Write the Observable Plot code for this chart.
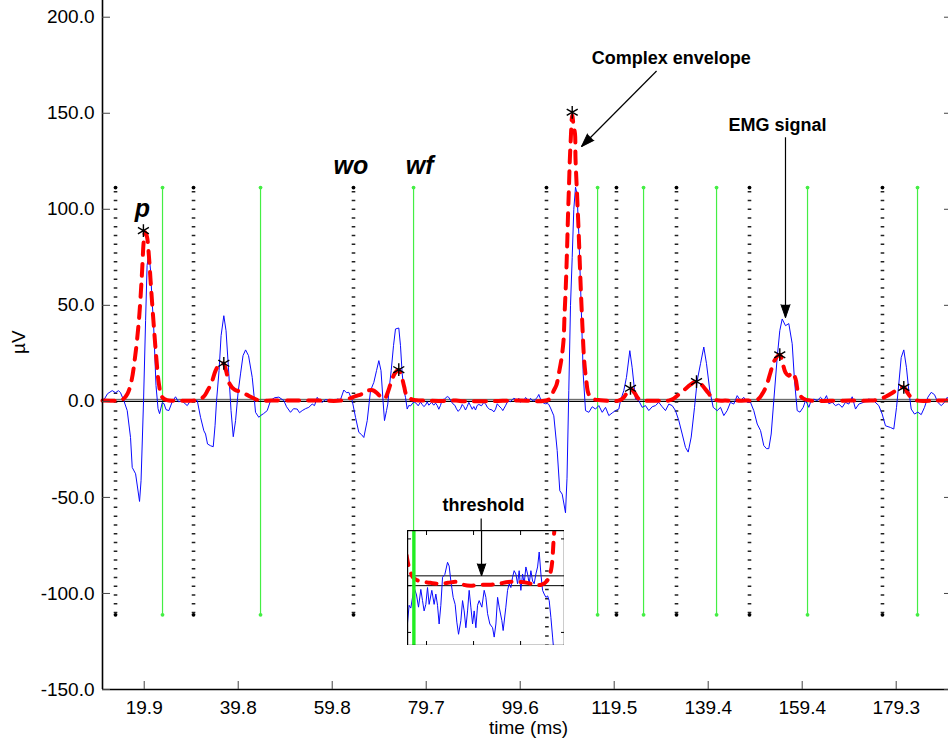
<!DOCTYPE html>
<html><head><meta charset="utf-8">
<script src="https://cdn.jsdelivr.net/npm/d3@7"></script>
<script src="https://cdn.jsdelivr.net/npm/@observablehq/plot@0.6"></script>
<style>
body{margin:0;background:#fff;}
#wrap{position:relative;width:948px;height:740px;overflow:hidden;font-family:"Liberation Sans",Arial,sans-serif;}
#inset{position:absolute;left:406.5px;top:530px;line-height:0;}
</style></head><body><div id="wrap"><div id="main"></div><div id="inset"></div></div>
<script>
// ---- data ----
const signalT = [11.08,11.36,12.14,13.14,13.84,14.48,14.90,15.60,16.32,17.02,17.38,18.09,18.93,19.25,19.78,20.21,20.53,20.91,21.27,21.58,21.89,22.42,22.85,23.17,23.74,24.12,24.54,25.14,25.86,26.56,27.19,27.98,29.04,29.74,30.37,31.16,31.86,32.56,32.92,33.34,33.98,34.55,34.93,35.25,35.78,36.21,36.79,37.26,37.85,38.32,38.79,39.28,39.81,40.33,40.86,41.40,42.03,42.81,43.19,43.51,44.21,44.57,45.20,45.99,46.69,47.53,48.45,49.51,50.08,50.92,51.56,52.34,52.83,53.40,54.10,54.80,55.52,56.01,56.58,57.07,57.64,58.34,59.40,60.04,60.82,61.52,62.22,62.79,63.28,64.00,64.70,65.40,65.97,66.46,67.18,67.88,68.58,69.15,69.64,70.10,70.53,70.84,71.27,71.54,71.90,72.26,72.75,73.17,73.87,74.23,74.59,74.97,75.29,75.65,75.99,76.35,77.05,77.56,77.98,78.47,78.83,79.17,79.53,79.89,80.23,80.80,81.29,81.65,82.01,82.35,82.71,83.07,83.56,84.13,84.47,84.83,85.32,85.74,86.10,86.46,86.95,87.31,87.65,88.01,88.37,88.71,89.07,89.43,89.77,90.13,90.49,90.83,91.40,91.89,92.25,92.61,93.09,93.67,94.01,94.37,94.73,95.07,95.64,95.91,96.48,96.84,97.18,97.54,97.90,98.24,98.60,98.96,99.30,99.66,100.02,100.36,100.72,101.08,101.42,101.78,102.14,102.48,102.84,103.20,103.54,103.90,104.26,104.60,104.96,105.32,105.66,106.02,106.38,106.72,107.44,107.99,108.50,109.20,109.52,109.90,110.26,110.62,110.96,111.32,111.64,112.02,112.53,112.95,113.44,114.14,114.86,115.56,116.26,116.98,117.68,118.38,119.10,119.80,120.50,120.86,121.55,122.12,122.83,123.33,124.03,124.73,125.45,126.15,126.85,127.57,128.27,128.97,129.69,130.39,131.09,131.81,132.51,133.21,133.93,134.63,135.20,135.84,136.54,137.11,137.81,138.51,139.08,139.78,140.50,141.35,142.05,142.75,143.46,144.16,144.86,145.58,146.28,146.98,147.70,148.40,149.10,149.83,150.53,151.22,151.79,152.28,152.79,153.34,154.06,154.61,155.12,155.82,156.52,157.24,157.73,158.30,158.89,159.57,160.06,160.42,160.76,161.12,161.82,162.54,163.24,163.94,164.51,165.00,165.72,166.42,167.12,167.84,168.54,169.24,169.96,170.66,171.36,172.36,173.47,174.47,175.59,176.31,177.01,178.07,178.77,179.35,179.83,180.34,180.89,181.46,181.95,182.46,183.16,183.86,184.58,185.28,185.98,186.70,187.40,188.10,188.82,189.52,190.09,190.99];
const signalUv = [0,0.7,4.0,5.6,4.5,5.6,4.5,0.4,-4.8,-18.8,-34.4,-37.7,-52.1,-41.3,0.4,42,70.7,77.6,68,52.4,41,8.2,-3.8,-6.4,-0.7,-1.2,-4.3,-4.8,-0.2,2.4,-0.2,0.1,-2.2,0.4,0.6,0.4,-8.3,-15.3,-17,-22.2,-23.1,-23.6,-12.7,0.4,16,34.2,44.6,36.8,14.4,-4.8,-18.4,-10,4.5,14.3,23.8,26.8,23.8,12.5,3.0,-5.7,-8.3,-7.4,-6.4,-4.8,0.4,1.9,2.2,0.4,-2.8,-5.7,-3.8,-4.0,-5.9,-4.8,-3.8,-3.1,-1.4,-2.2,2.1,0.4,-0.5,0.9,0.4,-0.2,1.2,0.9,5.9,4.5,4.7,0.4,-8.3,-16.1,-17.3,-18.8,-10,5.6,9.9,16,21.2,16,0.4,-10,-4.8,-1.4,8.2,16,29,37.7,38.2,29,14.3,5.6,2.1,-4.0,-2.1,-2.4,-0.2,-1.0,-2.3,-0.4,-1.6,-2.7,-2.0,-0.2,-2.0,-0.5,-2.0,-0.9,-2.1,-4.1,-2.1,0.9,1.2,2.5,2.1,0.5,-1.25,-2.0,-3.9,-5.2,-3.75,-1.6,-2.7,-4.5,-2.7,-0.5,-2.3,-4.1,-2.7,-4.5,-2.1,-1.6,-2.3,-0.5,-1.25,-3.0,-4.1,-4.5,-5.5,-4.1,-1.25,-2.3,-3.75,-4.8,-2.3,-0.5,0.2,-0.2,0.9,1.6,1.25,0.2,1.6,-0.5,1.25,0.2,2.0,1.25,0.2,1.6,0.5,0.2,1.25,2.0,3.6,1.25,-0.5,-0.9,-1.25,-1.1,-1.6,-3.4,-5.5,-7.5,-25.6,-46.5,-48.3,-58,-40,5.6,50,75,100,111.5,108,87.3,49.3,14.4,-4.8,-5.7,-2.8,-4.0,-2.2,-5.7,-3.1,-7.4,-6.0,-4.8,-4.0,0.4,5.6,12.5,26.4,17.5,1.2,0.4,-3.1,-2.2,-4.8,-2.8,-2.2,-0.5,-2.8,-4.8,-1.4,-2.2,-4.8,-10,-17,-24,-26.4,-18.6,-3.1,10.8,19.6,28.3,19.6,5.6,-3.1,-4.8,-3.1,-7.4,-4.8,-0.5,-1.4,3.0,0.4,2.1,-0.5,-0.5,-4.8,-11.8,-15.2,-23,-24.6,-24.6,-17,0.4,22.8,36.8,42.9,39.4,40.5,30,10.8,-4.8,-5.6,-3.1,0.4,-1.2,-3.1,-0.5,1.2,0.4,2.1,0.4,3.0,-1.2,-0.5,-2.2,-1.4,-3.1,-0.5,-1.4,2.4,-4.0,-1.4,-0.5,1.2,0.4,-2.2,-6.6,-12.7,-13.6,-14.4,-3.1,9,22.8,26.8,17.5,5.6,-4.0,-6.6,-5.6,-6.9,-3.1,2.1,4.7,3.5,-0.5,-2.2,-0.5,2.1,-0.5];
const envT = [11.08,13.84,15.32,16.38,17.23,17.97,18.79,19.42,19.84,20.10,20.49,20.91,21.34,21.87,22.50,23.03,23.67,24.73,27.0,31.01,32.5,33.34,34.19,35.04,35.89,36.70,37.26,38.0,39.06,40.33,41.60,42.88,44.16,47.0,52.0,57.0,61.52,63.22,64.70,66.21,67.27,68.33,69.17,70.02,70.86,71.50,72.14,72.99,73.80,74.36,75.0,75.53,76.14,76.80,77.60,79.10,80.50,82.30,84.20,86.00,87.50,89.00,91.00,93.00,95.00,97.00,99.00,101.00,102.50,104.00,105.17,106.02,106.70,107.29,107.82,108.35,108.78,108.99,109.27,109.52,109.73,109.94,110.11,110.32,110.62,110.93,111.21,111.32,111.60,111.95,112.21,112.48,112.80,113.16,113.61,114.07,114.92,116.61,120.43,121.28,122.12,122.97,123.82,124.66,125.74,127.20,129.33,131.03,132.09,133.15,134.42,135.69,136.96,138.02,139.08,140.14,141.20,143.10,145.20,147.30,149.87,150.93,151.78,152.63,153.47,154.61,155.18,155.82,156.46,157.30,157.94,158.57,159.63,161.12,165.36,169.60,173.84,175.53,177.01,178.50,179.77,180.89,181.67,182.52,183.80,187.60,191.00];
const envUv = [0.4,0.4,0.9,4,10.8,22.8,42,65.5,84,88,85.8,75.9,60.3,42,22.2,9.2,2.4,0.6,0.4,0.6,2.4,5.6,9.7,16,19.4,19.8,16,9.2,6.1,5.0,3.5,1.9,0.6,0.4,0.5,0.4,0.4,1.4,2.7,4,5.6,5.8,4.5,2.4,1.4,4.5,9.2,14.4,16.4,13.9,7.7,3.0,1.7,0.9,0.6,0.4,0.3,0.2,0.3,0.4,0.1,0.0,0.1,0.1,0.2,0.4,0.4,0.3,0.1,0.1,0.5,1.6,5.6,8.6,15,22.2,31.6,44.6,60.3,78.5,96.7,112.3,125.4,136.8,149,143,139.4,126.4,110.3,90.5,73.3,56.1,38.4,21.2,10.8,4.0,1.4,0.6,0.4,1.4,4.0,6.8,4.5,1.4,0.4,0.3,0.4,0.4,1.4,3.5,6.1,8.7,10.5,8.7,5.6,2.4,0.6,0.4,0.4,0.4,0.9,4.0,8.2,15,21.2,24.3,20.2,15,13.4,15,11.8,4.5,1.4,0.4,0.3,0.4,0.4,0.9,2.4,4.5,6.6,7.3,4.5,1.9,0.4,0.4,0.4];
const peakT = [19.75,36.79,73.87,110.62,122.97,136.96,154.61,180.89];
const peakUv = [88.9,19.8,16.5,150.5,6.8,10.3,24.3,7.3];
const onsetT = [13.84,30.37,64.27,105.17,120.0,132.72,148.19,176.37];
const offsetT = [23.80,44.57,77.0,116.0,125.74,141.21,160.49,183.8];
const windowTop = 111.3, windowBottom = -111.1;
const threshold = 1.05;
const xTicks = [19.92,39.84,59.76,79.68,99.6,119.52,139.44,159.36,179.28];
const yTicks = [-150,-100,-50,0,50,100,150,200];
const xDomain = [11.08, 191.0];
const yDomain = [-150, 208.7];
const insetXDomain = [75.65, 108.9];
const insetYDomain = [-6.4, 5.9];
const insetXTicks = [79.68, 89.64, 99.6];
const insetYTicks = [-5, 0, 5];
const windowLabels = [{t: 19.56, v: 96.2, s: "p"}, {t: 63.7, v: 118.6, s: "wo"}, {t: 78.3, v: 118.6, s: "wf"}];
const noteLabels = [{t: 131.6, v: 175.4, s: "Complex envelope"}, {t: 154.1, v: 140.6, s: "EMG signal"}, {t: 91.8, v: -56.9, s: "threshold"}];
const noteArrows = [
  {x1: 128.5, y1: 172.0, x2: 112.6, y2: 132.7, angle: 224.6},
  {x1: 155.82, y1: 137.5, x2: 155.82, y2: 43.6, angle: 180}
];
const thresholdArrow = {x: 91.33, y1: -61.0, y2: -70};

// ---- derived tables ----
const signal = signalT.map((t, i) => ({t, v: signalUv[i]}));
const envelope = envT.map((t, i) => ({t, v: envUv[i]}));
const peaks = peakT.map((t, i) => ({t, v: peakUv[i]}));
const onsetEnds = onsetT.flatMap(t => [{t, v: windowTop}, {t, v: windowBottom}]);
const offsetEnds = offsetT.flatMap(t => [{t, v: windowTop}, {t, v: windowBottom}]);

const BLUE = "#0a0aff", RED = "#ff0000", GREEN = "#44ee44";
const FONT = "Liberation Sans, Arial, Helvetica, sans-serif";
const fmt = d => d.toFixed(1);

const main = Plot.plot({
  width: 948, height: 740,
  marginLeft: 102, marginRight: -3, marginTop: 0, marginBottom: 51,
  x: {domain: xDomain, label: null},
  y: {domain: yDomain, label: null},
  style: {fontFamily: FONT, fontSize: "19px", background: "#fff", color: "#000"},
  marks: [
    Plot.ruleX(onsetT, {x: d => d, y1: windowTop, y2: windowBottom, stroke: "#222", strokeWidth: 3.6, strokeDasharray: "1.5,7.27", strokeDashoffset: -3.8}),
    Plot.dot(onsetEnds, {x: "t", y: "v", r: 1.9, fill: "#000"}),
    Plot.ruleX(offsetT, {x: d => d, y1: windowTop, y2: windowBottom, stroke: GREEN, strokeWidth: 1.2}),
    Plot.dot(offsetEnds, {x: "t", y: "v", r: 1.9, fill: GREEN}),
    Plot.ruleY([threshold], {stroke: "#555", strokeWidth: 1}),
    Plot.ruleY([0], {stroke: "#000", strokeWidth: 1.4}),
    Plot.line(signal, {x: "t", y: "v", stroke: BLUE, strokeWidth: 1}),
    Plot.line(envelope, {x: "t", y: "v", stroke: RED, strokeWidth: 4, strokeDasharray: "12,9", curve: "catmull-rom"}),
    Plot.dot(peaks, {x: "t", y: "v", symbol: "asterisk", r: 6, stroke: "#000", strokeWidth: 1.4}),
    Plot.ruleX([xDomain[0]], {stroke: "#000", strokeWidth: 1.6}),
    Plot.ruleY([yDomain[0]], {stroke: "#000", strokeWidth: 1.6}),
    Plot.axisX(xTicks, {anchor: "bottom", tickSize: -8, tickPadding: 19, tickFormat: fmt, label: null, fontSize: 19, stroke: "#444"}),
    Plot.axisY(yTicks, {anchor: "left", tickSize: -8, tickPadding: 16, tickFormat: fmt, label: null, fontSize: 19, stroke: "#444"}),
    Plot.axisY(yTicks, {anchor: "right", tickSize: -8, tickFormat: () => "", label: null, stroke: "#444"}),
    Plot.text(["time (ms)"], {frameAnchor: "bottom", dx: 1.5, dy: 44, lineAnchor: "bottom", fontSize: 19}),
    Plot.text(["µV"], {frameAnchor: "left", dx: -84, dy: 9, rotate: -90, fontSize: 19}),
    Plot.text(windowLabels, {x: "t", y: "v", text: "s", fontSize: 25, fontWeight: "bold", fontStyle: "italic", lineAnchor: "bottom"}),
    Plot.text(noteLabels, {x: "t", y: "v", text: "s", fontSize: 18, fontWeight: "bold", lineAnchor: "bottom"}),
    Plot.link(noteArrows, {x1: "x1", y1: "y1", x2: "x2", y2: "y2", stroke: "#000", strokeWidth: 1.2}),
    Plot.vector(noteArrows, {x: "x2", y: "y2", rotate: "angle", length: 13, r: 4.5, shape: "spike", anchor: "end", fill: "#000", stroke: "#000", strokeWidth: 1}),
    Plot.link([thresholdArrow], {x1: "x", y1: "y1", x2: "x", y2: "y2", stroke: "#000", strokeWidth: 1.2})
  ]
});
document.getElementById("main").appendChild(main);

const inOn = onsetT.filter(t => t >= insetXDomain[0] && t <= insetXDomain[1]);
const inOff = offsetT.filter(t => t >= insetXDomain[0] && t <= insetXDomain[1]);
const inset = Plot.plot({
  width: 157, height: 115, margin: 0,
  x: {domain: insetXDomain, label: null},
  y: {domain: insetYDomain, label: null},
  style: {background: "#fff", fontFamily: FONT},
  marks: [
    Plot.ruleX(inOn, {x: d => d, stroke: "#222", strokeWidth: 3.6, strokeDasharray: "1.5,7.8", strokeDashoffset: -3}),
    Plot.ruleY([0, threshold], {stroke: "#000", strokeWidth: 1}),
    Plot.line(signal, {x: "t", y: "v", stroke: BLUE, strokeWidth: 1, clip: true}),
    Plot.line(envelope, {x: "t", y: "v", stroke: RED, strokeWidth: 4, strokeDasharray: "10,9", curve: "catmull-rom", clip: true}),
    Plot.ruleX(inOff, {x: d => d, stroke: "#22ee22", strokeWidth: 3.4}),
    Plot.link([thresholdArrow], {x1: "x", y1: insetYDomain[1], x2: "x", y2: threshold, stroke: "#000", strokeWidth: 1.2}),
    Plot.vector([thresholdArrow], {x: "x", y: threshold, rotate: 180, length: 12, r: 4.2, shape: "spike", anchor: "end", fill: "#000", stroke: "#000", strokeWidth: 1}),
    Plot.axisX(insetXTicks, {anchor: "bottom", tickSize: -4, tickFormat: () => "", label: null}),
    Plot.axisX(insetXTicks, {anchor: "top", tickSize: -4, tickFormat: () => "", label: null}),
    Plot.axisY(insetYTicks, {anchor: "left", tickSize: -4, tickFormat: () => "", label: null}),
    Plot.axisY(insetYTicks, {anchor: "right", tickSize: -4, tickFormat: () => "", label: null}),
    Plot.frame({stroke: "#000", strokeWidth: 1.4})
  ]
});
document.getElementById("inset").appendChild(inset);
</script>
</body></html>
